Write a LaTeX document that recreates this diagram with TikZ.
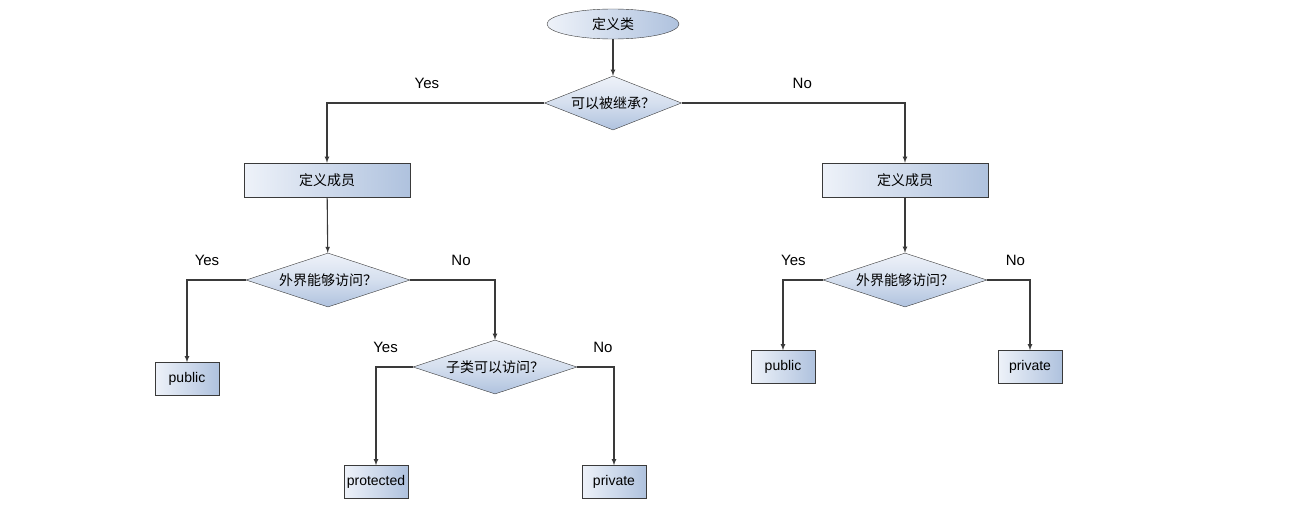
\documentclass[tikz,border=0pt]{standalone}
\usepackage{fontspec}
\setmainfont{Liberation Sans}
\newfontfamily\cjk{Noto Sans CJK SC}
\usepackage{tikz}
\usetikzlibrary{positioning}
\usetikzlibrary{shapes.geometric, arrows}

\definecolor{boxlight}{HTML}{EEF2F9}
\definecolor{boxdark}{HTML}{AFC2DE}
\definecolor{edgegray}{HTML}{3A3A3A}

\tikzset{
  startnode/.style={ellipse, draw=edgegray, left color=boxlight, right color=boxdark,
    minimum width=132, minimum height=30, inner sep=0pt, font=\cjk\fontsize{14}{14}\selectfont},
  membox/.style={rectangle, draw=edgegray, left color=boxlight, right color=boxdark,
    minimum width=166, minimum height=34, inner sep=0pt, font=\cjk\fontsize{14}{14}\selectfont},
  question/.style={diamond, draw=edgegray, top color=boxlight, bottom color=boxdark,
    middle color=boxlight!60!boxdark, aspect=3,
    minimum width=164, minimum height=54, inner sep=0pt, font=\cjk\fontsize{14}{14}\selectfont},
  leafbox/.style={rectangle, draw=edgegray, left color=boxlight, right color=boxdark,
    minimum width=64, minimum height=33, inner sep=1pt, font=\fontsize{14}{14}\selectfont},
  flow/.style={->, >=latex, draw=edgegray, line width=1.1pt},
  answer/.style={above=12pt, font=\fontsize{15}{15}\selectfont, inner sep=2pt}
}

\begin{document}
\begin{tikzpicture}[x=1pt, y=-1pt]

\useasboundingbox (0,0) rectangle (1293,506);

% Start
\node[startnode] (start) at (613,24) {定义类};

% First question
\node[question, aspect=2.5, minimum width=137] (inherit) at (613,103) {可以被继承？};

% Members
\node[membox] (memleft) at (327,180) {定义成员};
\node[membox] (memright) at (905,180) {定义成员};

% Outside access
\node[question] (outleft) at (328,280) {外界能够访问？};
\node[question] (outright) at (905,280) {外界能够访问？};

% Subclass access
\node[question] (sub) at (495,367) {子类可以访问？};

% Leaves
\node[leafbox] (publeft) at (187,379) {public};
\node[leafbox] (prot) at (376,482) {protected};
\node[leafbox] (privleft) at (614,482) {private};
\node[leafbox] (pubright) at (783,367) {public};
\node[leafbox] (privright) at (1030,367) {private};

% Arrows
\draw[flow] (start) -- (inherit);
\draw[flow] (inherit.west) -| node[answer, pos=0.27] {Yes} (memleft.north);
\draw[flow] (inherit.east) -| node[answer, pos=0.27] {No} (memright.north);

\draw[flow] (memleft) -- (outleft);
\draw[flow] (memright) -- (outright);

\draw[flow] (outleft.west) -| node[answer, pos=0.33] {Yes} (publeft.north);
\draw[flow] (outleft.east) -| node[answer, pos=0.3] {No} (sub.north);

\draw[flow] (sub.west) -| node[answer, pos=0.37] {Yes} (prot.north);
\draw[flow] (sub.east) -| node[answer, pos=0.35] {No} (privleft.north);

\draw[flow] (outright.west) -| node[answer, pos=0.37] {Yes} (pubright.north);
\draw[flow] (outright.east) -| node[answer, pos=0.33] {No} (privright.north);

\end{tikzpicture}
\end{document}
